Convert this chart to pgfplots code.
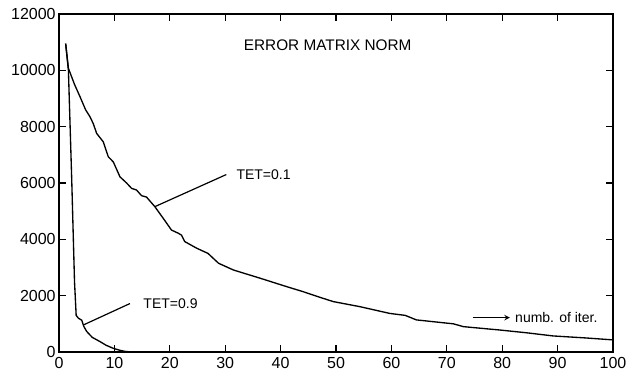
\documentclass[border=0pt]{standalone}
\usepackage{fontspec}
\setmainfont{Liberation Sans}
\usepackage{pgfplots}
\pgfplotsset{compat=1.18}
\begin{document}
\begin{tikzpicture}
\begin{axis}[
  scale only axis,
  width=415.5pt, height=253.5pt,
  xmin=0, xmax=100, ymin=0, ymax=12000,
  xtick={0,10,...,100}, ytick={0,2000,...,12000},
  scaled ticks=false,
  /pgf/number format/set thousands separator={},
  /pgf/number format/assume math mode=true,
  tick align=inside, major tick length=5pt,
  tick style={line width=0.9pt, black},
  axis line style={line width=1pt},
  ticklabel style={font=\fontsize{12}{14}\selectfont},
  xticklabel style={yshift=-0.5pt},
  yticklabel style={xshift=1pt},
  tick pos=both,
]
\addplot[black, line width=1pt] coordinates {
(1.2,10950) (1.7,10070) (2.8,9500) (3.8,9060) (4.8,8600) (5.6,8350) (6.2,8100) (6.8,7760) (8.0,7460) (8.9,6930) (9.8,6750) (11.0,6220) (12.2,6000) (13.1,5810) (14.0,5750) (14.9,5550) (15.8,5500) (17.3,5160) (18.8,4750) (20.3,4330) (21.5,4220) (22.1,4150) (22.7,3920) (24.9,3680) (26.9,3500) (28.8,3150) (31.5,2910) (36.3,2620) (41.1,2320) (44.1,2140) (46.8,1960) (49.5,1790) (54.3,1610) (59.7,1370) (62.5,1300) (64.5,1140) (71.2,1000) (73.0,900) (79.6,780) (84.5,680) (89.2,570) (95,500) (100,430)
};
\addplot[black, line width=1pt] coordinates {
(1.2,10950) (1.7,10000) (2.3,6100) (2.8,2500) (3.1,1300) (3.5,1200) (4.1,1130) (4.5,900) (5.0,730) (6.0,520) (7.4,370) (8.5,240) (9.8,130) (11.0,60) (12.0,20) (13.0,5) (100,0)
};
\draw[line width=0.9pt] (axis cs:17.3,5160) -- (axis cs:30.2,6300);
\node[anchor=west, font=\fontsize{10.5}{12}\selectfont, inner sep=0pt] at (axis cs:32,6290) {TET=0.1};
\draw[line width=0.9pt] (axis cs:4.4,960) -- (axis cs:12.8,1720);
\node[anchor=west, font=\fontsize{10.5}{12}\selectfont, inner sep=0pt] at (axis cs:15.2,1730) {TET=0.9};
\node[font=\fontsize{11.5}{13}\selectfont, inner sep=0pt] at (axis cs:48.5,10900) {ERROR MATRIX NORM};
\draw[-stealth, line width=0.9pt] (axis cs:74.7,1220) -- (axis cs:81.4,1220);
\node[anchor=west, font=\fontsize{10.5}{12}\selectfont, inner sep=0pt] at (axis cs:82.3,1220) {numb. of iter.};
\end{axis}
\pgfresetboundingbox
\path (current axis.south west) ++(-44.25pt,-17.25pt) coordinate (bl);
\path (current axis.north east) ++(15.75pt,10.5pt) coordinate (tr);
\useasboundingbox (bl) rectangle (tr);
\end{tikzpicture}
\end{document}
